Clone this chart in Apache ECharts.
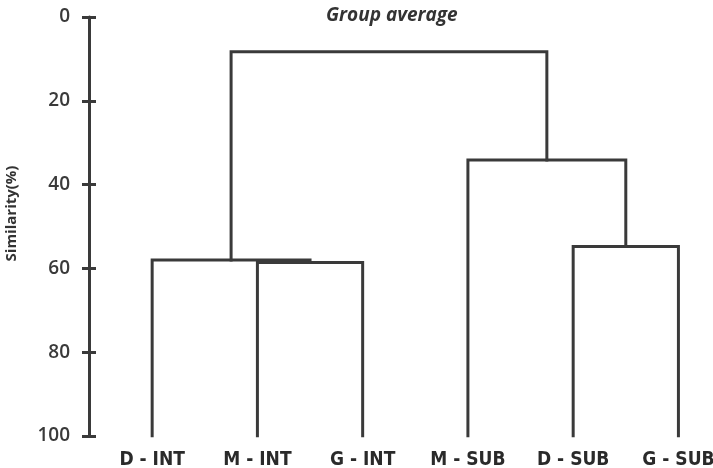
<!DOCTYPE html>
<html>
<head>
<meta charset="utf-8">
<script src="https://cdn.jsdelivr.net/npm/echarts@6/dist/echarts.min.js"></script>
<style>
  html, body { margin: 0; padding: 0; background: #fff; }
  #chart { width: 713px; height: 468px; }
</style>
</head>
<body>
<div id="chart"></div>
<script>
// leaves, left to right
const leaves = ['D - INT', 'M - INT', 'G - INT', 'M - SUB', 'D - SUB', 'G - SUB'];
// linkage: ids >= leaves.length point at earlier merges
const linkA = [1, 4, 0, 3, 8];
const linkB = [2, 5, 6, 7, 9];
const similarity = [58.6, 54.8, 58.0, 34.1, 8.3];
const yTicks = [0, 20, 40, 60, 80, 100];

const ink = '#3a3a3a';
const font = '"Open Sans", "Noto Sans", sans-serif';

// node positions: leaves sit at their index, height 100
const nodeX = leaves.map((_, i) => i);
const nodeH = leaves.map(() => 100);
const series = [];
linkA.forEach((a, i) => {
  const b = linkB[i];
  const h = similarity[i];
  series.push({
    type: 'line',
    data: [[nodeX[a], nodeH[a]], [nodeX[a], h], [nodeX[b], h], [nodeX[b], nodeH[b]]],
    symbol: 'none',
    silent: true,
    animation: false,
    lineStyle: { color: ink, width: 3, cap: 'square', join: 'miter' },
  });
  nodeX.push((nodeX[a] + nodeX[b]) / 2);
  nodeH.push(h);
});

const chart = echarts.init(document.getElementById('chart'));
chart.setOption({
  animation: false,
  title: {
    text: 'Group average',
    left: 321,
    top: 1,
    textStyle: { fontFamily: font, fontSize: 19, fontStyle: 'italic', fontWeight: 'bold', color: '#333' },
  },
  grid: { left: 89, right: 3, top: 17, bottom: 32, outerBoundsMode: 'none' },
  xAxis: {
    type: 'value',
    min: -0.6,
    max: 5.3,
    axisLine: { show: false },
    axisTick: { show: false },
    splitLine: { show: false },
    axisLabel: {
      customValues: leaves.map((_, i) => i),
      formatter: (v) => leaves[Math.round(v)] || '',
      margin: 15,
      fontFamily: '"Liberation Sans Narrow", "DejaVu Sans Condensed", sans-serif',
      fontWeight: 'bold',
      fontSize: 19,
      color: '#2a2a2a',
    },
  },
  yAxis: [
    {
      type: 'value',
      inverse: true,
      min: 0,
      max: 100,
      interval: 20,
      name: 'Similarity(%)',
      nameLocation: 'middle',
      nameGap: 70,
      nameTextStyle: { fontFamily: font, fontSize: 15, fontWeight: 'bold', color: '#333', padding: [0, 0, 0, 26] },
      axisLine: { show: true, onZero: false, lineStyle: { color: ink, width: 3 } },
      axisTick: { show: true, length: 7, lineStyle: { color: ink, width: 3 } },
      splitLine: { show: false },
      axisLabel: {
        customValues: yTicks,
        margin: 19,
        fontFamily: font,
        fontWeight: 600,
        fontSize: 19,
        color: '#3a3a3a',
      },
    },
    {
      type: 'value',
      inverse: true,
      min: 0,
      max: 100,
      interval: 20,
      position: 'left',
      axisLine: { show: false, onZero: false },
      axisTick: { show: true, inside: true, length: 7, lineStyle: { color: ink, width: 3 } },
      splitLine: { show: false },
      axisLabel: { show: false },
    },
  ],
  series: series,
});
</script>
</body>
</html>
